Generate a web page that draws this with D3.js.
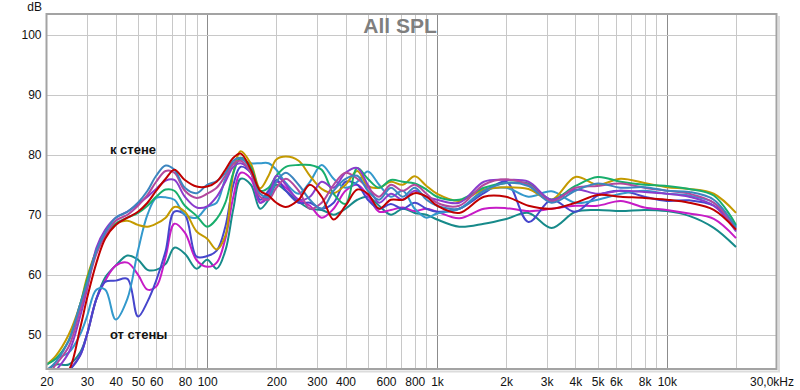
<!DOCTYPE html>
<html>
<head>
<meta charset="utf-8">
<script src="https://cdn.jsdelivr.net/npm/d3@7"></script>
<style>
  body { margin: 0; background: #fff; }
  svg { display: block; font-family: "Liberation Sans", Arial, sans-serif; }
</style>
</head>
<body>
<div class="canvas"></div>
<script>
// measurement frequencies (Hz), shared by every trace
const freqs = [20, 22, 25, 28, 30, 33, 36, 40, 45, 50, 55, 60, 66, 72, 80, 90, 100, 110, 120, 130,
  140, 155, 170, 185, 200, 220, 250, 280, 315, 355, 400, 450, 500, 560, 630, 710, 800, 900, 1000,
  1250, 1600, 2000, 2500, 3150, 4000, 5000, 6300, 8000, 10000, 12500, 16000, 20000];

// SPL traces, dB
const teal = [44, 45, 45, 47, 50, 56, 59.5, 61.5, 63.2, 62.5, 60.8, 60.8, 61.8, 64.5, 63.5, 61, 62.5, 61, 64, 71,
  76, 75, 71, 72.5, 75, 74, 72.2, 71, 70.8, 70, 71, 72.5, 73, 71.5, 70, 71, 70.3, 70, 69.2,
  68, 68.5, 69.3, 70.3, 67.8, 70.5, 70.8, 70.6, 70.8, 70.6, 69.8, 67.8, 64.6];
const magenta = [40, 42, 44, 46.5, 50, 56, 59, 61.5, 62, 60, 57.5, 58, 63, 68.5, 67, 62.4, 61.3, 62, 66, 73,
  77, 76, 72, 73.5, 75.5, 74.5, 72.5, 71.5, 69.5, 71, 74, 75, 73.2, 70.5, 70.8, 71.2, 70.6, 71, 70.5,
  69.4, 71, 71.1, 70.6, 71, 71.5, 71.5, 72.3, 71.2, 70.8, 70.2, 69.3, 66.1];
const indigo = [42, 43, 44, 46.5, 50, 56, 58.8, 59, 59.3, 53, 55.5, 59, 64, 70.5, 70, 63, 63.1, 64, 68, 75,
  78, 77, 72.5, 74, 75.8, 74, 72, 72, 71, 72, 75.5, 75, 72.5, 71, 71.8, 71, 72, 71, 70.5,
  71, 73.6, 75.5, 68.8, 72.5, 70.5, 73.2, 74, 73, 72.3, 72.4, 71.5, 68];
const lightBlue = [45, 46, 47, 50, 53, 57.5, 57.5, 52.5, 56, 64, 70, 72.8, 72.9, 72.5, 70, 69.5, 71.3, 72, 76, 78.6,
  79.2, 78.6, 78.6, 78.6, 77.5, 75.3, 73.5, 75.5, 78.3, 76, 74.5, 75.5, 77.2, 75, 73, 74, 71, 69.5, 70.2,
  71, 74, 74.5, 73, 73.9, 72, 72.5, 73.5, 74, 73.5, 73.2, 72, 68];
const gold = [45, 46.5, 50, 55, 59.5, 64, 66.5, 68.5, 69, 68.3, 68, 68.5, 69.5, 71.3, 70.5, 67.2, 66, 64.2, 66.5, 77,
  80.6, 78.5, 74.4, 76.5, 79.2, 79.7, 79, 76.5, 74.3, 73.6, 75, 77.3, 74.8, 74.5, 75.5, 75, 76.4, 74.8, 73.5,
  72.3, 74.2, 74.6, 74.3, 72.5, 76.3, 75, 76, 75.3, 74.6, 74.3, 73.5, 70.3];
const green = [45, 46, 49, 55, 59, 64, 66.5, 68.5, 69.5, 70.3, 71.5, 73, 74.2, 74, 71.5, 69.8, 68, 69.3, 72, 77,
  79.5, 78, 74, 74.5, 76.5, 78, 78.3, 78.3, 77.5, 73.5, 71.8, 77.8, 76, 74.5, 75.8, 75.5, 75.2, 74.2, 73,
  72.5, 74.5, 75.3, 75.2, 72.5, 74.8, 76.3, 75.5, 75, 74.8, 74.3, 73.2, 68.3];
const purple = [42, 44, 47, 53, 57.5, 64.5, 67.5, 69.5, 70.5, 71.8, 73, 74.3, 75.7, 75.8, 73, 71.2, 71.4, 73, 75.5, 78,
  78.6, 77, 72, 73, 76.5, 75, 72.5, 73, 75.5, 74.5, 77, 77.8, 75, 72, 73.5, 72.5, 74, 73, 72.5,
  72, 75.5, 75.8, 75.5, 72.5, 74.2, 73.5, 74, 73.8, 73.5, 73, 71.5, 67.2];
const orchid = [43, 45, 48, 54, 58, 63.5, 66.5, 69, 70, 71.5, 73.3, 75.5, 77.3, 77, 74, 72.8, 73.5, 74.5, 76.5, 78.5,
  79, 77, 73, 72.5, 74.5, 76, 74, 71, 72, 75, 77, 76, 74.5, 73, 75, 74, 75, 73.5, 72,
  71.5, 75, 75.9, 75, 72.2, 74.5, 74.8, 75.2, 74.5, 74, 73.5, 72, 67.5];
const steelBlue = [44, 45.5, 49, 55, 58.5, 64, 67, 69.5, 70.5, 72, 74, 76.5, 78.2, 77.5, 74.5, 73.6, 75, 75.6, 77, 79,
  79.5, 77.5, 73.5, 73, 75.5, 77, 75, 72.5, 71, 74, 76, 76.5, 74, 72.5, 74.5, 73, 74.5, 72.5, 71.5,
  71, 74, 75.3, 74.8, 72, 74, 75.2, 74.5, 74.6, 74, 73.8, 72.5, 67.8];
const red = [41, 42, 44, 51, 56, 62, 66, 68.3, 69.5, 70.5, 72, 74, 76, 77.5, 75.8, 74.7, 74.7, 75.5, 77.5, 79.5,
  80.2, 77.5, 74, 73.2, 72, 71.3, 72.5, 75, 73, 69.2, 71.5, 74.2, 73.5, 71, 72.5, 72.5, 73.6, 73, 71.5,
  70.3, 73, 73, 71.5, 71, 72, 73.3, 73, 72.8, 72.5, 72, 70.8, 67.5];

const traceColors = ['#178a8a', '#c61cc6', '#4646cc', '#3399cc', '#c49a00', '#18ae6c', '#8a3ccc', '#b3489e', '#3c85bf', '#c00000'];

// axis labels
const yTicks = [50, 60, 70, 80, 90, 100];
const xLabelFreqs = [20, 30, 40, 50, 60, 80, 100, 200, 300, 400, 600, 800, 1000, 2000, 3000, 4000, 5000, 6000, 8000, 10000, 30000];
const xLabels = ['20', '30', '40', '50', '60', '80', '100', '200', '300', '400', '600', '800', '1k', '2k', '3k', '4k', '5k', '6k', '8k', '10k', '30,0kHz'];
const gridFreqs = [30, 40, 50, 60, 70, 80, 90, 100, 200, 300, 400, 500, 600, 700, 800, 900,
  1000, 2000, 3000, 4000, 5000, 6000, 7000, 8000, 9000, 10000, 20000];
const decades = [100, 1000, 10000];

const traces = [teal, magenta, indigo, lightBlue, gold, green, purple, orchid, steelBlue, red]
  .map((values, i) => ({ color: traceColors[i], values }));

const width = 800, height = 390;
const plot = { left: 46.5, right: 776.5, top: 14, bottom: 369 };

const svg = d3.select('.canvas')
  .append('svg')
  .attr('width', width)
  .attr('height', height);

const x = d3.scaleLog().domain([20, 30000]).range([plot.left, plot.right]);
const y = d3.scaleLinear().domain([44.25, 103.5]).range([plot.bottom, plot.top]);

// plot background
svg.append('rect')
  .attr('x', plot.left).attr('y', plot.top)
  .attr('width', plot.right - plot.left).attr('height', plot.bottom - plot.top)
  .attr('fill', '#fff');

// grid
const grid = svg.append('g').attr('shape-rendering', 'crispEdges');
grid.selectAll('line.v')
  .data(gridFreqs)
  .join('line')
  .attr('class', 'v')
  .attr('x1', d => Math.round(x(d)) + 0.5).attr('x2', d => Math.round(x(d)) + 0.5)
  .attr('y1', plot.top).attr('y2', plot.bottom)
  .attr('stroke', d => decades.includes(d) ? '#8c8c8c' : '#c8c8c8');
grid.selectAll('line.h')
  .data(yTicks)
  .join('line')
  .attr('class', 'h')
  .attr('x1', plot.left).attr('x2', plot.right)
  .attr('y1', d => Math.round(y(d)) + 0.5).attr('y2', d => Math.round(y(d)) + 0.5)
  .attr('stroke', '#c8c8c8');

// traces
svg.append('clipPath').attr('id', 'clip')
  .append('rect')
  .attr('x', plot.left).attr('y', plot.top)
  .attr('width', plot.right - plot.left).attr('height', plot.bottom - plot.top);

const line = d3.line()
  .x((d, i) => x(freqs[i]))
  .y(d => y(d))
  .curve(d3.curveCatmullRom.alpha(0.5));

svg.append('g')
  .attr('clip-path', 'url(#clip)')
  .selectAll('path')
  .data(traces)
  .join('path')
  .attr('d', d => line(d.values))
  .attr('fill', 'none')
  .attr('stroke', d => d.color)
  .attr('stroke-width', 2)
  .attr('stroke-linejoin', 'round');

// frame with a soft shadow
svg.append('path')
  .attr('d', `M${plot.right + 2.5},${plot.top + 2}V${plot.bottom + 2.5}H${plot.left + 2}`)
  .attr('fill', 'none')
  .attr('stroke', '#dcdcdc')
  .attr('stroke-width', 2);
svg.append('rect')
  .attr('x', plot.left).attr('y', plot.top)
  .attr('width', plot.right - plot.left).attr('height', plot.bottom - plot.top)
  .attr('fill', 'none')
  .attr('stroke', '#a3a3a3')
  .attr('stroke-width', 2);

// axes
const xAxis = svg.append('g')
  .attr('transform', `translate(0,${plot.bottom})`)
  .call(d3.axisBottom(x).tickValues(xLabelFreqs).tickFormat((d, i) => xLabels[i]).tickSize(0).tickPadding(8));
xAxis.select('.domain').remove();
xAxis.selectAll('text').attr('font-size', 12).attr('fill', '#111').attr('font-family', null);
xAxis.selectAll('.tick').filter(d => d === 30000).select('text').attr('dx', -5);

const yAxis = svg.append('g')
  .attr('transform', `translate(${plot.left},0)`)
  .call(d3.axisLeft(y).tickValues(yTicks).tickSize(0).tickPadding(5));
yAxis.select('.domain').remove();
yAxis.selectAll('text').attr('font-size', 12).attr('fill', '#111').attr('font-family', null);

svg.append('text')
  .attr('x', 42).attr('y', 11)
  .attr('text-anchor', 'end')
  .attr('font-size', 12)
  .attr('fill', '#111')
  .text('dB');

// title
svg.append('text')
  .attr('x', 400).attr('y', 33)
  .attr('text-anchor', 'middle')
  .attr('font-size', 21)
  .attr('font-weight', 'bold')
  .attr('fill', '#7f7f7f')
  .text('All SPL');

// annotations
svg.append('text')
  .attr('x', 110).attr('y', 154)
  .attr('font-size', 13)
  .attr('font-weight', 'bold')
  .attr('fill', '#111')
  .text('к стене');
svg.append('text')
  .attr('x', 110).attr('y', 339)
  .attr('font-size', 13)
  .attr('font-weight', 'bold')
  .attr('fill', '#111')
  .text('от стены');
</script>
</body>
</html>
